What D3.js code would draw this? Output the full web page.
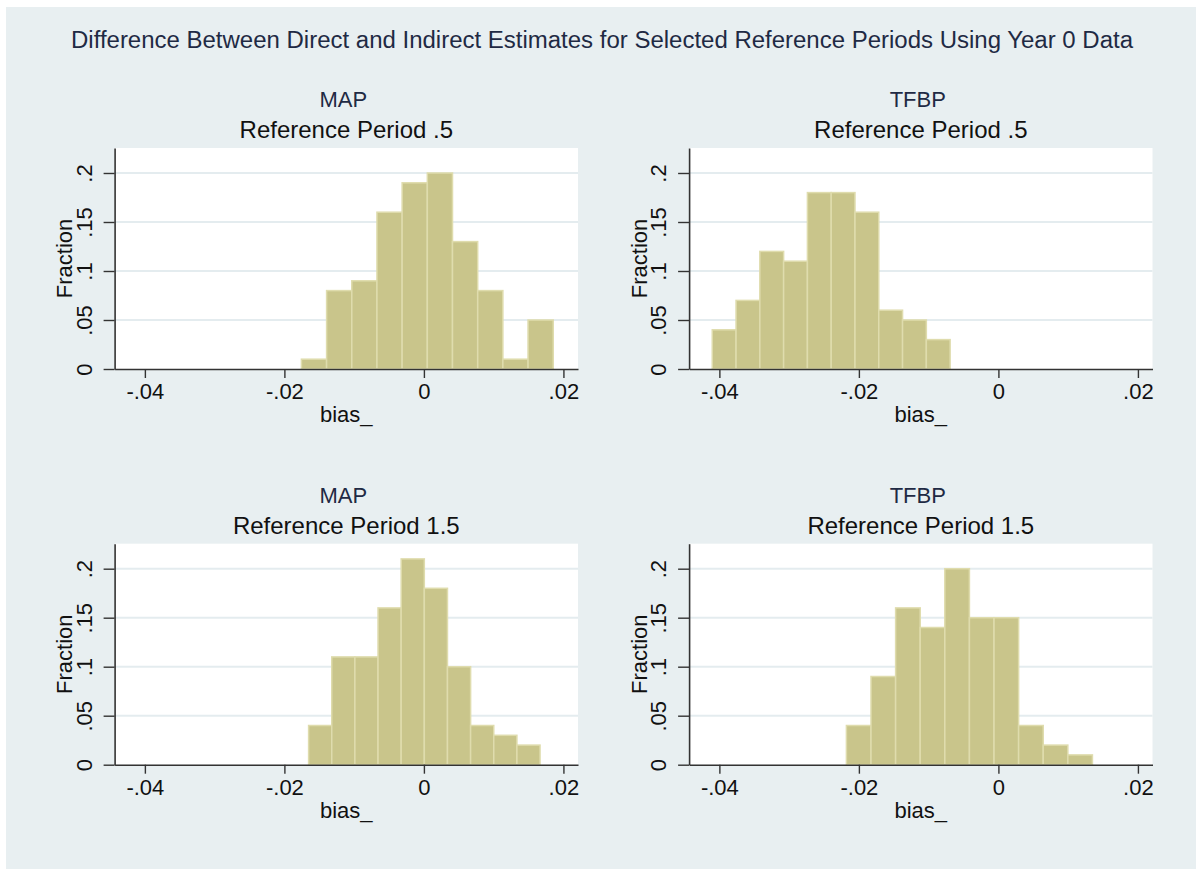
<!DOCTYPE html>
<html>
<head>
<meta charset="utf-8">
<script src="https://cdn.jsdelivr.net/npm/d3@7"></script>
<style>
  html, body { margin: 0; padding: 0; background: #ffffff; }
  svg { display: block; }
  text { font-family: "Liberation Sans", Arial, Helvetica, sans-serif; }
</style>
</head>
<body>
<svg id="chart" width="1196" height="869"></svg>
<script>
// ---- Data ----
const mainTitle = "Difference Between Direct and Indirect Estimates for Selected Reference Periods Using Year 0 Data";
const panelMethods = ["MAP", "TFBP", "MAP", "TFBP"];
const panelPeriods = ["Reference Period .5", "Reference Period .5", "Reference Period 1.5", "Reference Period 1.5"];

// Histogram bins: lower edge of first bin, bin width, fractions per bin
const binStarts = [-0.01756, -0.04102, -0.01653, -0.02179];
const binWidths = [0.00361, 0.00341, 0.003318, 0.003527];
const mapP05 = [0.01, 0.08, 0.09, 0.16, 0.19, 0.20, 0.13, 0.08, 0.01, 0.05];
const tfbpP05 = [0.04, 0.07, 0.12, 0.11, 0.18, 0.18, 0.16, 0.06, 0.05, 0.03];
const mapP15 = [0.04, 0.11, 0.11, 0.16, 0.21, 0.18, 0.10, 0.04, 0.03, 0.02];
const tfbpP15 = [0.04, 0.09, 0.16, 0.14, 0.20, 0.15, 0.15, 0.04, 0.02, 0.01];
const panelFractions = [mapP05, tfbpP05, mapP15, tfbpP15];

const xTickValues = [-0.04, -0.02, 0, 0.02];
const xTickLabels = ["-.04", "-.02", "0", ".02"];
const yTickValues = [0, 0.05, 0.1, 0.15, 0.2];
const yTickLabels = ["0", ".05", ".1", ".15", ".2"];
const xAxisTitle = "bias_";
const yAxisTitle = "Fraction";

// ---- Layout / style ----
const W = 1196, H = 869;
const bgColor = "#e8eff1";
const gridColor = "#e4ecef";
const barFill = "#c9c58b";
const barStroke = "#dfdcad";
const titleColor = "#1f2a44";

const plotW = 463.4, plotH = 221;
const baseLeft = 114.6, baseTop = 148;
const colStep = 574.5, rowStep = 395.7;
const xDomain = [-0.04434, 0.02209];
const yDomain = [0, 0.2255];

const svg = d3.select("#chart");

svg.append("rect").attr("x", 6).attr("y", 7).attr("width", W - 6).attr("height", H - 7)
  .attr("fill", bgColor);

svg.append("text")
  .attr("x", 71).attr("y", 48)
  .attr("font-size", 23)
  .attr("fill", titleColor)
  .attr("textLength", 1062)
  .attr("lengthAdjust", "spacingAndGlyphs")
  .text(mainTitle);

panelFractions.forEach((fracs, i) => {
  const col = i % 2, row = Math.floor(i / 2);
  const left = baseLeft + col * colStep;
  const top = baseTop + row * rowStep;
  const g = svg.append("g").attr("transform", `translate(${left},${top})`);

  const x = d3.scaleLinear().domain(xDomain).range([0, plotW]);
  const y = d3.scaleLinear().domain(yDomain).range([plotH, 0]);

  g.append("rect").attr("x", 0).attr("y", 0).attr("width", plotW).attr("height", plotH)
    .attr("fill", "#ffffff");

  // gridlines
  g.selectAll(".grid").data(yTickValues.filter(v => v > 0)).join("line")
    .attr("x1", 0).attr("x2", plotW)
    .attr("y1", d => y(d)).attr("y2", d => y(d))
    .attr("stroke", gridColor).attr("stroke-width", 2);

  // bars
  const bins = fracs.map((f, k) => ({
    x0: binStarts[i] + k * binWidths[i],
    x1: binStarts[i] + (k + 1) * binWidths[i],
    f: f
  }));
  g.selectAll(".bar").data(bins).join("rect")
    .attr("x", d => x(d.x0))
    .attr("width", d => x(d.x1) - x(d.x0))
    .attr("y", d => y(d.f))
    .attr("height", d => y(0) - y(d.f))
    .attr("fill", barFill)
    .attr("stroke", barStroke)
    .attr("stroke-width", 1.5);

  // x axis
  const xAxis = d3.axisBottom(x).tickValues(xTickValues)
    .tickFormat((d, k) => xTickLabels[k]).tickSize(9).tickSizeOuter(0).tickPadding(8);
  const gx = g.append("g").attr("transform", `translate(0,${plotH})`).call(xAxis);
  gx.select(".domain").attr("stroke", "#333").attr("stroke-width", 1.6);
  gx.selectAll(".tick line").attr("stroke", "#333").attr("stroke-width", 1.4);
  gx.selectAll(".tick text").attr("font-size", 22).attr("fill", "#111")
    .attr("font-family", "'Liberation Sans', Arial, sans-serif")
    .attr("y", 30).attr("dy", 0);

  // y axis
  const yAxis = d3.axisLeft(y).tickValues(yTickValues)
    .tickFormat((d, k) => yTickLabels[k]).tickSize(11).tickSizeOuter(0);
  const gy = g.append("g").call(yAxis);
  gy.select(".domain").attr("stroke", "#333").attr("stroke-width", 1.6);
  gy.selectAll(".tick line").attr("stroke", "#333").attr("stroke-width", 1.4);
  gy.selectAll(".tick text").attr("font-size", 22).attr("fill", "#111")
    .attr("font-family", "'Liberation Sans', Arial, sans-serif")
    .attr("transform", "rotate(-90)")
    .attr("x", 0).attr("y", -23).attr("dy", 0)
    .attr("text-anchor", "middle");

  // axis titles
  g.append("text")
    .attr("x", plotW / 2).attr("y", plotH + 53)
    .attr("text-anchor", "middle").attr("font-size", 22).attr("fill", "#111")
    .text(xAxisTitle);
  g.append("text")
    .attr("transform", `translate(-42.5,${plotH / 2}) rotate(-90)`)
    .attr("text-anchor", "middle").attr("font-size", 22).attr("fill", "#111")
    .text(yAxisTitle);

  // panel titles
  g.append("text")
    .attr("x", plotW / 2 - 3).attr("y", -41)
    .attr("text-anchor", "middle").attr("font-size", 22).attr("fill", titleColor)
    .text(panelMethods[i]);
  g.append("text")
    .attr("x", plotW / 2).attr("y", -10)
    .attr("text-anchor", "middle").attr("font-size", 24).attr("fill", "#111")
    .text(panelPeriods[i]);
});
</script>
</body>
</html>
